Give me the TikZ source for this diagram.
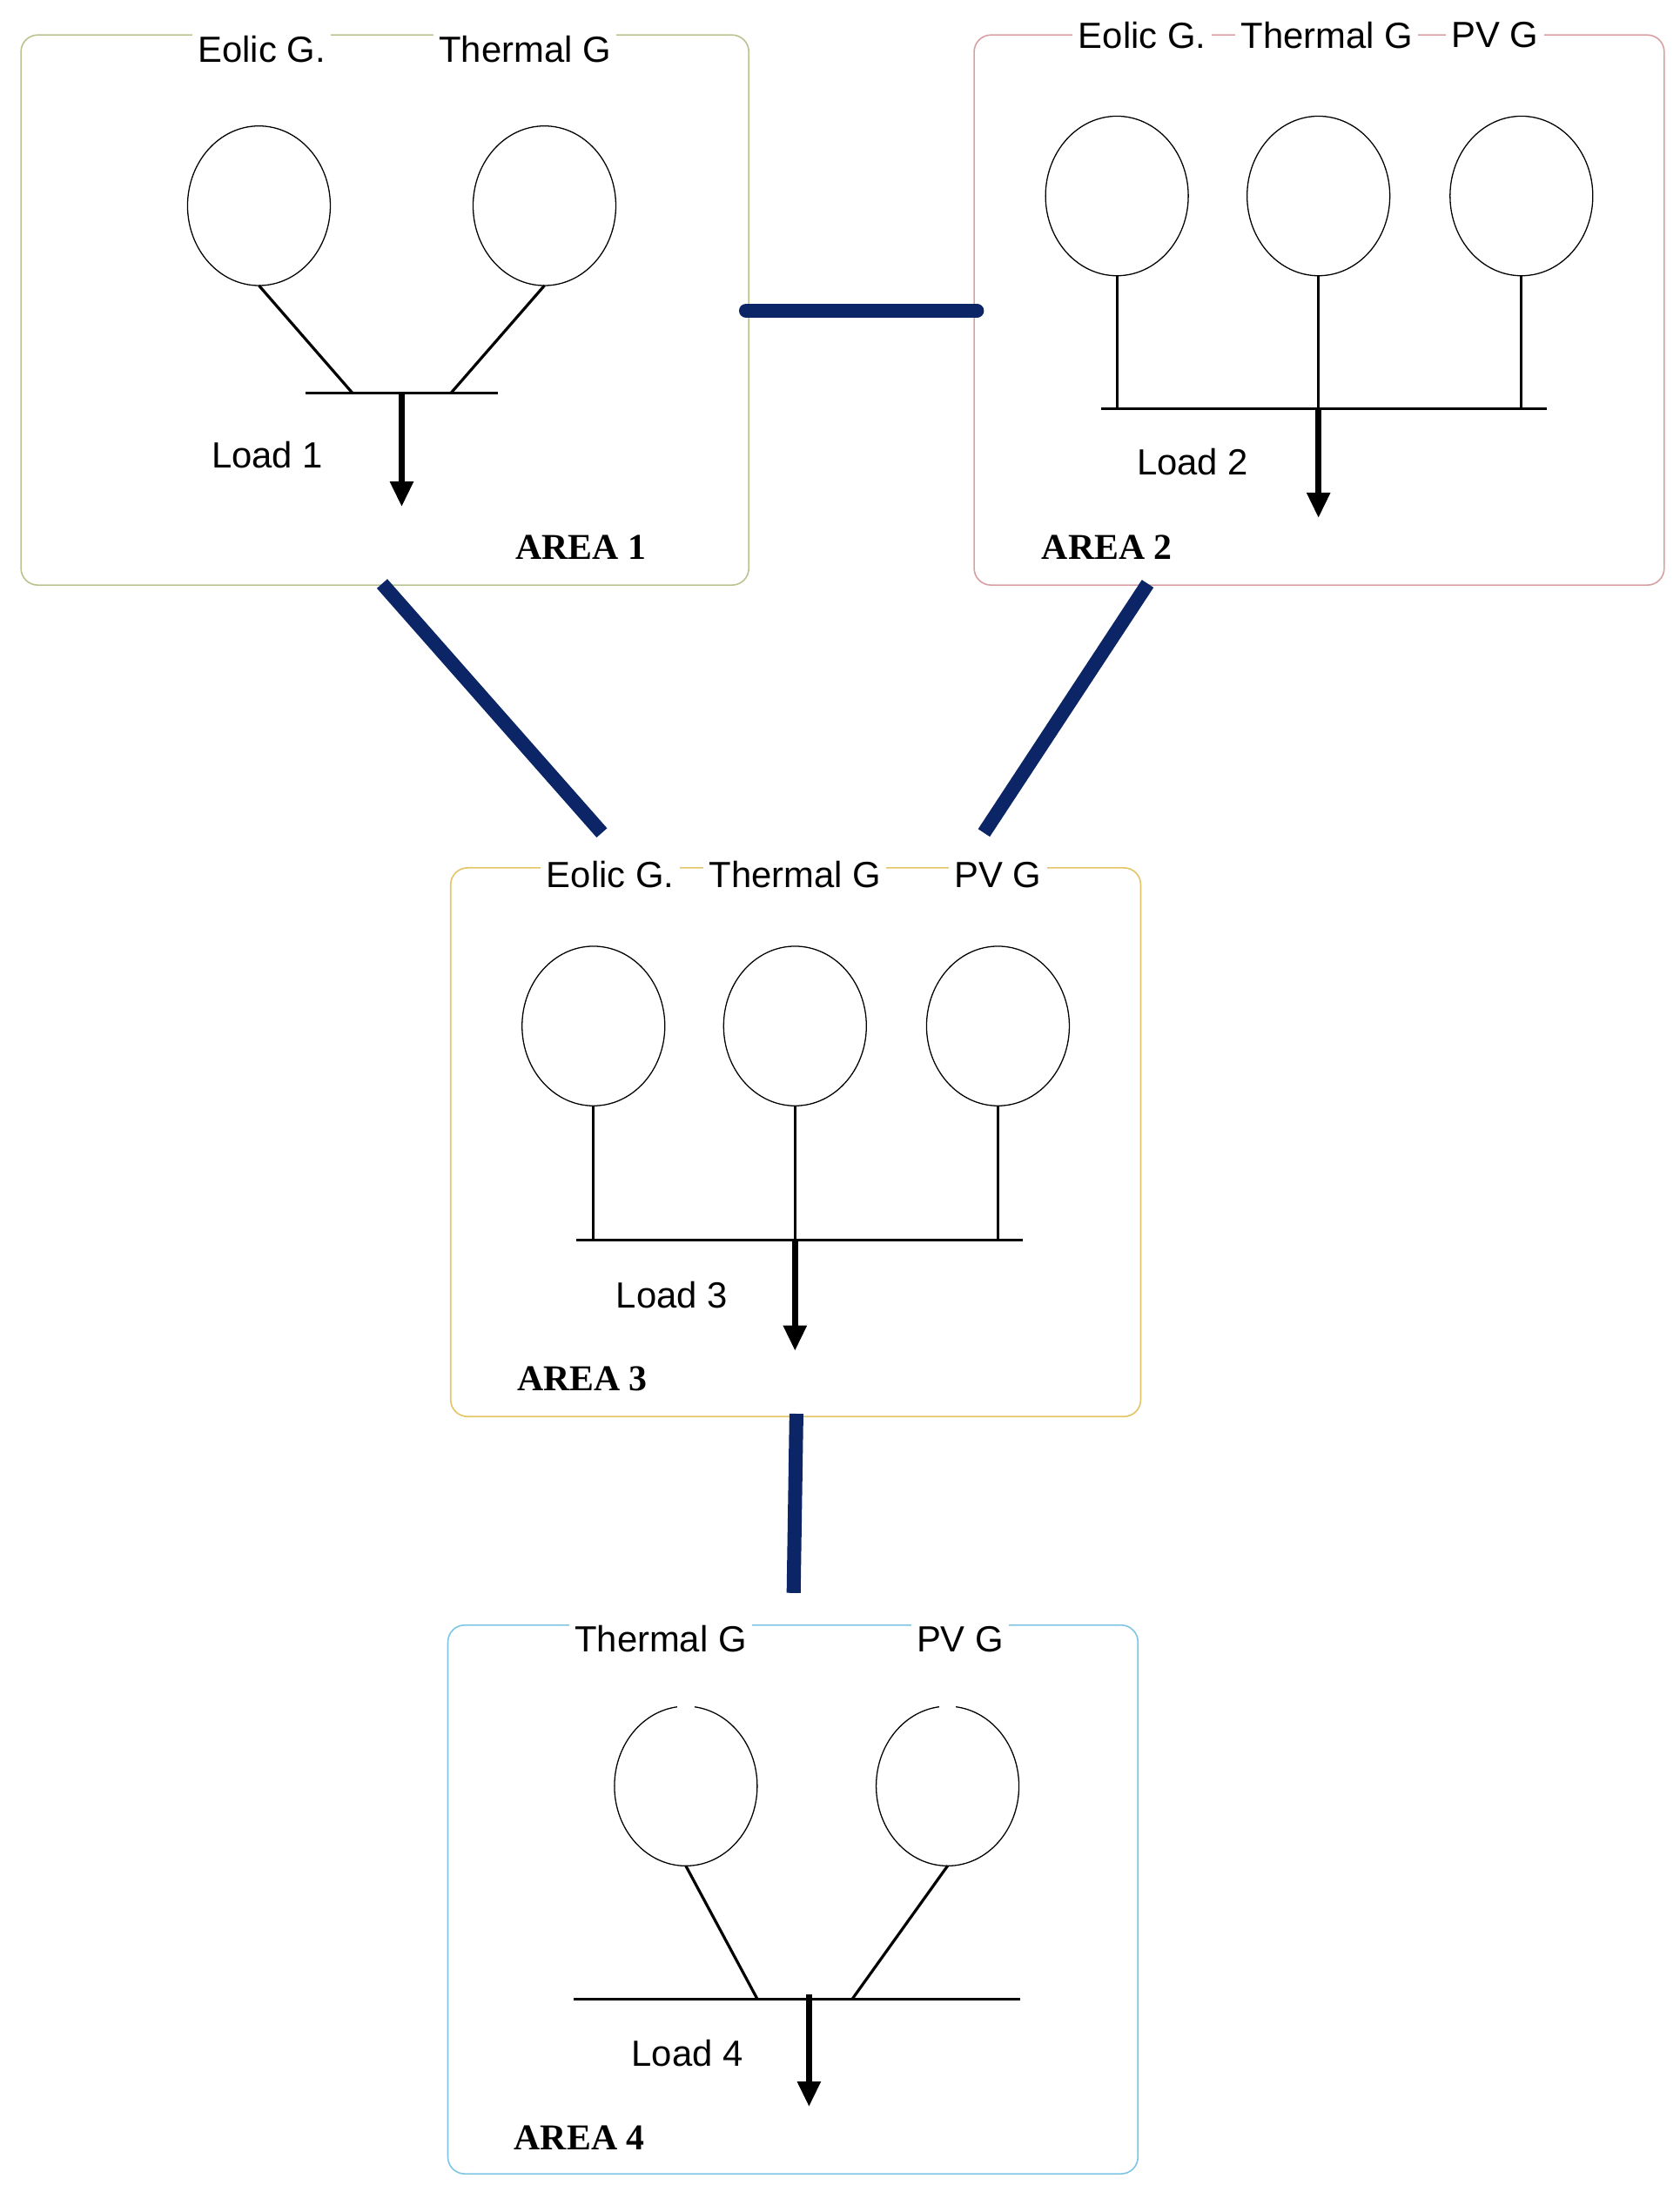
\documentclass[tikz,border=0pt]{standalone}
\usepackage{fontspec}
\setmainfont{Liberation Sans}
\newfontfamily\areafont{Liberation Serif}
\usetikzlibrary{arrows.meta}
\definecolor{navy}{HTML}{0B2566}
\definecolor{cA}{HTML}{B8C48E}
\definecolor{cB}{HTML}{D9A0A4}
\definecolor{cC}{HTML}{E3C467}
\definecolor{cD}{HTML}{7FC6E6}
\begin{document}
\begin{tikzpicture}[x=0.5pt,y=-0.5pt,
  box/.style={draw=#1,line width=0.5pt,rounded corners=6pt},
  lbl/.style={fill=white,inner sep=2pt,font=\fontsize{13}{15}\selectfont},
  area/.style={font=\areafont\bfseries\fontsize{13}{15}\selectfont},
  gen/.style={draw,line width=0.4pt,ellipse,minimum width=102\pgflinewidth},
  wire/.style={line width=1pt},
  load/.style={line width=2pt,-{Triangle[length=9pt,width=8pt]}},
  tie/.style={line width=5pt,navy,line cap=round}]
\useasboundingbox (0,0) rectangle (1200,1566);
\def\gen#1#2#3{\draw[line width=0.4pt] (#2,#3) ellipse [x radius=51, y radius=57]; \coordinate (#1) at (#2,#3+57);}
% Area 1
\draw[box=cA] (15,25) rectangle (535,418);
\node[lbl] at (187,35) {Eolic G.};
\node[lbl] at (375,35) {Thermal G};
\gen{g11}{185}{147}\gen{g12}{389}{147}
\coordinate (b1a) at (218,281); \coordinate (b1b) at (356,281);
\draw[wire] (b1a)--(b1b);
\draw[wire] (g11)--(252,281); \draw[wire] (g12)--(322,281);
\coordinate (l1) at (287,362);
\draw[load] (287,281)--(l1);
\node[font=\fontsize{13}{15}\selectfont] at (191,325) {Load 1};
\node[area] at (415,391) {AREA 1};
% Area 2
\draw[box=cB] (696,25) rectangle (1189,418);
\node[lbl] at (816,25) {Eolic G.};
\node[lbl] at (948,25) {Thermal G};
\node[lbl] at (1068,25) {PV G};
\gen{g21}{798}{140}\gen{g22}{942}{140}\gen{g23}{1087}{140}
\draw[wire] (787,292)--(1105,292);
\foreach \g/\x in {g21/798,g22/942,g23/1087} \draw[wire] (\g)--(\x,292);
\draw[load] (942,292)--(942,370);
\node[font=\fontsize{13}{15}\selectfont] at (852,330) {Load 2};
\node[area] at (791,391) {AREA 2};
% Area 3
\draw[box=cC] (322,620) rectangle (815,1012);
\node[lbl] at (436,625) {Eolic G.};
\node[lbl] at (568,625) {Thermal G};
\node[lbl] at (713,625) {PV G};
\gen{g31}{424}{733}\gen{g32}{568}{733}\gen{g33}{713}{733}
\draw[wire] (412,886)--(731,886);
\foreach \g/\x in {g31/424,g32/568,g33/713} \draw[wire] (\g)--(\x,886);
\draw[load] (568,886)--(568,965);
\node[font=\fontsize{13}{15}\selectfont] at (480,925) {Load 3};
\node[area] at (416,985) {AREA 3};
% Area 4
\draw[box=cD] (320,1161) rectangle (813,1553);
\node[lbl] at (472,1171) {Thermal G};
\node[lbl] at (686,1171) {PV G};
\gen{g41}{490}{1276}\gen{g42}{677}{1276}
\fill[white] (484,1214) rectangle (496,1224);
\fill[white] (671,1214) rectangle (683,1224);
\draw[wire] (410,1428)--(729,1428);
\draw[wire] (g41)--(541,1428); \draw[wire] (g42)--(609,1428);
\draw[load] (578,1425)--(578,1505);
\node[font=\fontsize{13}{15}\selectfont] at (491,1467) {Load 4};
\node[area] at (414,1527) {AREA 4};
% ties
\coordinate (t12a) at (533,222); \coordinate (t12b) at (698,222);
\coordinate (t13a) at (273,417); \coordinate (t13b) at (430,595);
\coordinate (t23a) at (820,417); \coordinate (t23b) at (703,595);
\coordinate (t34a) at (569,1010); \coordinate (t34b) at (567,1138);
\draw[tie] (t12a)--(t12b);
\draw[tie,line cap=butt] (t13a)--(t13b);
\draw[tie,line cap=butt] (t23a)--(t23b);
\draw[tie,line cap=butt] (t34a)--(t34b);
\end{tikzpicture}
\end{document}
